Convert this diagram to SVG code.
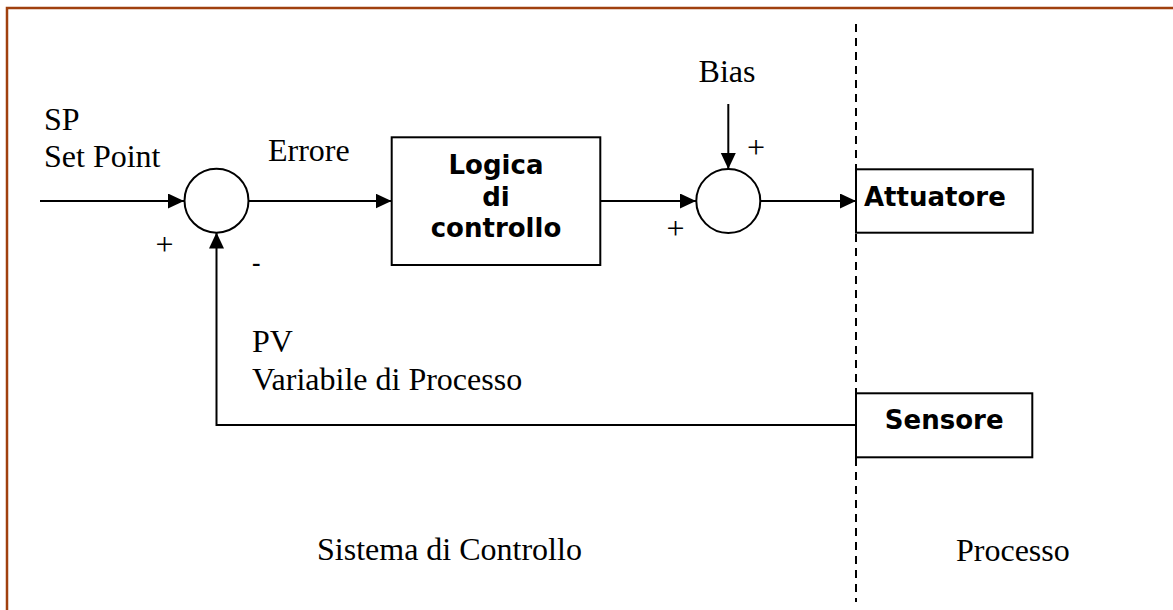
<svg xmlns="http://www.w3.org/2000/svg" width="1173" height="610" viewBox="0 0 1173 610">
  <style>
    .serif { font-family: "Liberation Serif", "Times New Roman", serif; font-size: 32px; fill: #000; }
    .bold { font-family: "DejaVu Sans", Verdana, sans-serif; font-weight: bold; font-size: 26px; fill: #000; }
    .box { fill: #fff; stroke: #000; stroke-width: 2; }
    .sum { fill: #fff; stroke: #000; stroke-width: 2; }
    .wire { fill: none; stroke: #000; stroke-width: 2; }
    .dash { fill: none; stroke: #000; stroke-width: 2; stroke-dasharray: 8 6; }
    .frame { fill: none; stroke: #A0400E; stroke-width: 2.5; }
  </style>
  <defs>
    <marker id="arrow" markerUnits="userSpaceOnUse" markerWidth="17" markerHeight="16" refX="16" refY="7.5" orient="auto">
      <path d="M0,0 L16,7.5 L0,15 z" fill="#000"/>
    </marker>
  </defs>
  <rect width="1173" height="610" fill="#fff"/>

  <g id="frame">
    <path class="frame" d="M7,610 L7,8 L1173,8"/>
  </g>

  <g id="divider">
    <line class="dash" x1="856" y1="24" x2="856" y2="602"/>
  </g>

  <g id="connectors">
    <line class="wire" x1="40" y1="201" x2="184" y2="201" marker-end="url(#arrow)"/>
    <line class="wire" x1="248.5" y1="201" x2="391.5" y2="201" marker-end="url(#arrow)"/>
    <line class="wire" x1="600" y1="201" x2="696" y2="201" marker-end="url(#arrow)"/>
    <line class="wire" x1="728.3" y1="104" x2="728.3" y2="169" marker-end="url(#arrow)"/>
    <line class="wire" x1="760" y1="201" x2="856" y2="201" marker-end="url(#arrow)"/>
    <polyline class="wire" points="856,425 216.5,425 216.5,232.5" marker-end="url(#arrow)"/>
  </g>

  <g id="sum1">
    <circle class="sum" cx="216.5" cy="200.7" r="32"/>
  </g>
  <g id="logica">
    <rect class="box" x="391.7" y="137.3" width="208.6" height="127.7"/>
    <text class="bold" x="496" y="174" text-anchor="middle">Logica</text>
    <text class="bold" x="496" y="205.5" text-anchor="middle">di</text>
    <text class="bold" x="496" y="236.7" text-anchor="middle">controllo</text>
  </g>
  <g id="sum2">
    <circle class="sum" cx="728.3" cy="201" r="32"/>
  </g>
  <g id="attuatore">
    <rect class="box" x="856" y="169.3" width="176.7" height="63.4"/>
    <text class="bold" x="864" y="206">Attuatore</text>
  </g>
  <g id="sensore">
    <rect class="box" x="856" y="393.3" width="176.3" height="64"/>
    <text class="bold" x="944.2" y="428.5" text-anchor="middle">Sensore</text>
  </g>

  <g id="labels">
    <text class="serif" x="44" y="130">SP</text>
    <text class="serif" x="44" y="167">Set Point</text>
    <text class="serif" x="268" y="161">Errore</text>
    <text class="serif" x="727" y="82" text-anchor="middle">Bias</text>
    <text class="serif" x="164.5" y="255" text-anchor="middle">+</text>
    <text class="serif" x="756" y="158" text-anchor="middle">+</text>
    <text class="serif" x="675.5" y="239" text-anchor="middle">+</text>
    <text x="256.3" y="272" text-anchor="middle" style="font-family: 'Liberation Sans', Arial, sans-serif; font-size: 27px; fill: #000;">-</text>
    <text class="serif" x="252" y="352">PV</text>
    <text class="serif" x="252" y="390">Variabile di Processo</text>
    <text class="serif" x="317" y="560">Sistema di Controllo</text>
    <text class="serif" x="956" y="561">Processo</text>
  </g>
</svg>
